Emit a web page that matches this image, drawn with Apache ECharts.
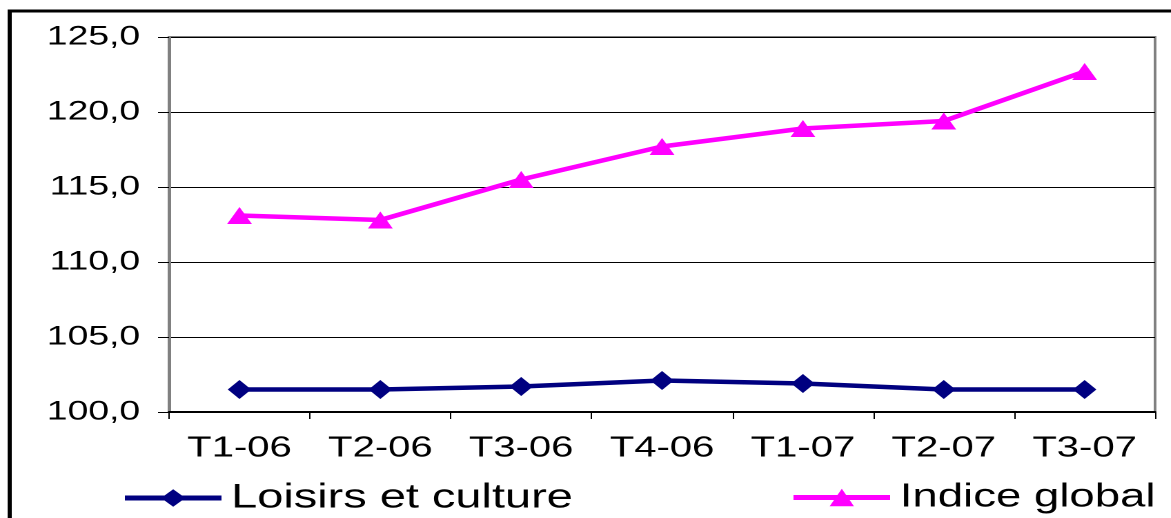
<!DOCTYPE html>
<html>
<head>
<meta charset="utf-8">
<script src="https://cdn.jsdelivr.net/npm/echarts@6/dist/echarts.min.js"></script>
<style>
  html, body { margin: 0; padding: 0; background: #fff; overflow: hidden; }
  /* the reference picture is stretched sideways, so the chart is drawn narrow and scaled in x */
  #chart { width: 849px; height: 518px; transform: scaleX(1.38); transform-origin: 0 0; }
</style>
</head>
<body>
<div id="chart"></div>
<script>
const categories = ['T1-06', 'T2-06', 'T3-06', 'T4-06', 'T1-07', 'T2-07', 'T3-07']
const loisirsCulture = [101.5, 101.5, 101.7, 102.1, 101.9, 101.5, 101.5]
const indiceGlobal = [113.1, 112.8, 115.5, 117.7, 118.9, 119.4, 122.7]
const yTicks = { min: 100, max: 125, interval: 5 }

const font = 'Liberation Sans, Arial, sans-serif'

const chart = echarts.init(document.getElementById('chart'), null, { devicePixelRatio: 2 })

const legendBase = {
  top: 481,
  padding: 0,
  itemWidth: 70,
  itemHeight: 22,
  selectedMode: false,
  lineStyle: { width: 5 },
}

const option = {
  animation: false,
  backgroundColor: '#fff',
  graphic: [
    {
      type: 'rect',
      shape: { x: 7, y: 11, width: 1000, height: 600 },
      style: { fill: 'none', stroke: '#000', lineWidth: 3 },
      z: 100,
    },
  ],
  grid: {
    left: 122.5,
    top: 37,
    width: 714.5,
    height: 375,
    show: true,
    borderColor: '#808080',
    borderWidth: 2,
  },
  legend: [
    {
      ...legendBase,
      data: ['Loisirs et culture'],
      left: 88,
      textStyle: { fontSize: 34, color: '#000', fontFamily: font, padding: [0, 0, 0, 2] },
    },
    {
      ...legendBase,
      data: ['Indice global'],
      left: 572.5,
      textStyle: { fontSize: 33, color: '#000', fontFamily: font, padding: [0, 0, 0, 2] },
    },
  ],
  xAxis: {
    type: 'category',
    data: categories,
    boundaryGap: true,
    axisLine: { lineStyle: { color: '#000', width: 2 } },
    axisTick: { show: true, length: 7, lineStyle: { color: '#000', width: 1 } },
    axisLabel: { color: '#000', fontSize: 29, fontFamily: font, margin: 22, interval: 0 },
    splitLine: { show: false },
  },
  yAxis: {
    type: 'value',
    min: yTicks.min,
    max: yTicks.max,
    interval: yTicks.interval,
    axisLine: { show: true, lineStyle: { color: '#808080', width: 2 } },
    axisTick: { show: true, length: 8, lineStyle: { color: '#000', width: 1 } },
    axisLabel: {
      color: '#000',
      fontSize: 27,
      fontFamily: font,
      margin: 21,
      formatter: (v) => v.toFixed(1).replace('.', ','),
    },
    splitLine: { show: true, lineStyle: { color: '#000', width: 1 } },
  },
  series: [
    {
      name: 'Loisirs et culture',
      type: 'line',
      data: loisirsCulture,
      symbol: 'diamond',
      symbolSize: [17, 19],
      lineStyle: { color: '#000080', width: 4.5 },
      itemStyle: { color: '#000080' },
      z: 3,
    },
    {
      name: 'Indice global',
      type: 'line',
      data: indiceGlobal,
      symbol: 'triangle',
      symbolSize: [18, 17],
      lineStyle: { color: '#FF00FF', width: 4.5 },
      itemStyle: { color: '#FF00FF' },
      z: 3,
    },
  ],
}

chart.setOption(option)
</script>
</body>
</html>
